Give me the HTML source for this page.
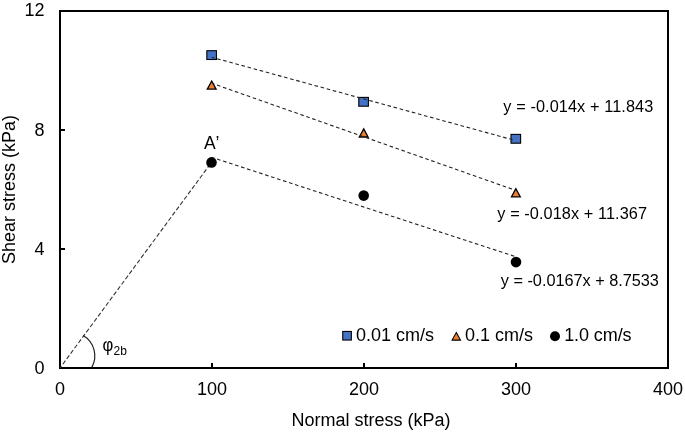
<!DOCTYPE html>
<html>
<head>
<meta charset="utf-8">
<style>
html,body{margin:0;padding:0;background:#fff;}
body{width:685px;height:433px;overflow:hidden;}
svg{display:block;will-change:transform;}
text{font-family:"Liberation Sans",sans-serif;fill:#000;}
</style>
</head>
<body>
<svg width="685" height="433" viewBox="0 0 685 433">
<rect x="60" y="11" width="608" height="357" fill="none" stroke="#000" stroke-width="2"/>
<g stroke="#000" stroke-width="2">
<line x1="61" y1="130" x2="65" y2="130"/>
<line x1="61" y1="249" x2="65" y2="249"/>
<line x1="212" y1="367" x2="212" y2="363"/>
<line x1="364" y1="367" x2="364" y2="363"/>
<line x1="516" y1="367" x2="516" y2="363"/>
</g>
<text transform="translate(44.5,16) scale(1.00000,1.00000)" font-size="18.00" text-anchor="end">12</text>
<text transform="translate(44.5,135.8) scale(1.00000,1.00000)" font-size="18.00" text-anchor="end">8</text>
<text transform="translate(44.5,254.6) scale(1.00000,1.00000)" font-size="18.00" text-anchor="end">4</text>
<text transform="translate(44.5,374.1) scale(1.00000,1.00000)" font-size="18.00" text-anchor="end">0</text>
<text transform="translate(60,395) scale(1.00000,1.00000)" font-size="18.00" text-anchor="middle">0</text>
<text transform="translate(212,395) scale(1.00000,1.00000)" font-size="18.00" text-anchor="middle">100</text>
<text transform="translate(364,395) scale(1.00000,1.00000)" font-size="18.00" text-anchor="middle">200</text>
<text transform="translate(516,395) scale(1.00000,1.00000)" font-size="18.00" text-anchor="middle">300</text>
<text transform="translate(668,395) scale(1.00000,1.00000)" font-size="18.00" text-anchor="middle">400</text>
<text transform="translate(371,426) scale(1.00000,1.00000)" font-size="18.00" text-anchor="middle">Normal stress (kPa)</text>
<text transform="translate(15.2,189.6) rotate(-90) scale(1.00000,1.00000)" font-size="18.00" text-anchor="middle">Shear stress (kPa)</text>
<line x1="60" y1="368" x2="211.5" y2="162.4" stroke="#333" stroke-width="1.1" stroke-dasharray="4.4 2.2" stroke-dashoffset="1.9"/>
<path d="M83.18,335.57 A23.6,23.6 0 0 1 91.82,367.38" fill="none" stroke="#1a1a1a" stroke-width="1.15"/>
<text transform="translate(102.4,351.3) scale(0.90000,1.00000)" font-size="18.50">φ</text>
<text transform="translate(113.6,354.7) scale(0.94000,1.00000)" font-size="12.80">2b</text>
<g fill="#4472C4" stroke="#000" stroke-width="1.1">
<rect x="206.85" y="50.70" width="9.6" height="8.8"/>
<rect x="358.80" y="97.40" width="9.6" height="8.8"/>
<rect x="511.00" y="134.40" width="9.6" height="8.8"/>
</g>
<g fill="#ED7D31" stroke="#000" stroke-width="1.3">
<path d="M211.7,81.00 L216.10,89.10 L207.30,89.10 Z"/>
<path d="M363.7,128.90 L368.10,137.00 L359.30,137.00 Z"/>
<path d="M515.9,188.70 L520.30,196.80 L511.50,196.80 Z"/>
</g>
<g fill="#000">
<circle cx="211.5" cy="162.4" r="5.3"/>
<circle cx="363.7" cy="195.6" r="5.3"/>
<circle cx="516" cy="262.1" r="5.3"/>
</g>
<g stroke="#222" stroke-width="1.1" stroke-dasharray="3.6 2.71" stroke-dashoffset="1.0" fill="none">
<line x1="212" y1="57.3" x2="513.5" y2="140.0"/>
<line x1="212" y1="83.3" x2="516" y2="190.5"/>
<line x1="212" y1="157.4" x2="516" y2="256.8"/>
</g>
<text transform="translate(503.3,111.8) scale(1.00000,1.00000)" font-size="16.30" textLength="150.00" lengthAdjust="spacing">y = -0.014x + 11.843</text>
<text transform="translate(497.35,219.2) scale(1.00000,1.00000)" font-size="16.30" textLength="149.65" lengthAdjust="spacing">y = -0.018x + 11.367</text>
<text transform="translate(500.85,285.7) scale(1.00000,1.00000)" font-size="16.30" textLength="158.00" lengthAdjust="spacing">y = -0.0167x + 8.7533</text>
<text transform="translate(204.0,149.3) scale(1.00000,1.00000)" font-size="17.50" textLength="15.30" lengthAdjust="spacing">A’</text>
<rect x="342.75" y="331.45" width="8.6" height="8.6" fill="#4472C4" stroke="#000" stroke-width="1.1"/>
<text transform="translate(356,340.9) scale(1.00000,1.00000)" font-size="18.00">0.01 cm/s</text>
<path d="M456.3,332.6 L460.5,340.1 L452.1,340.1 Z" fill="#ED7D31" stroke="#000" stroke-width="1.1"/>
<text transform="translate(465,340.9) scale(1.00000,1.00000)" font-size="18.00">0.1 cm/s</text>
<circle cx="555" cy="336.3" r="5" fill="#000"/>
<text transform="translate(564.2,340.9) scale(1.00000,1.00000)" font-size="18.00" textLength="67.40" lengthAdjust="spacing">1.0 cm/s</text>
</svg>
</body>
</html>
